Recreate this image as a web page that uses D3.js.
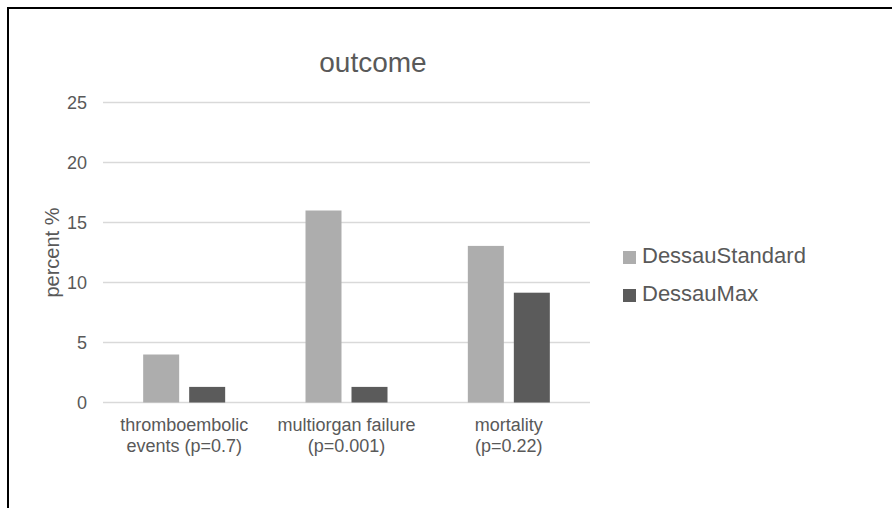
<!DOCTYPE html>
<html>
<head>
<meta charset="utf-8">
<script src="https://cdn.jsdelivr.net/npm/d3@7"></script>
<style>
  html, body { margin: 0; padding: 0; background: #fff; }
  svg { display: block; font-family: "Liberation Sans", Arial, sans-serif; }
</style>
</head>
<body>
<svg id="chart" width="892" height="508"></svg>
<script>
const categories = [
  ["thromboembolic", "events (p=0.7)"],
  ["multiorgan failure", "(p=0.001)"],
  ["mortality", "(p=0.22)"]
];
const seriesNames = ["DessauStandard", "DessauMax"];
const dessauStandard = [4, 16, 13.05];
const dessauMax = [1.3, 1.3, 9.15];
const yTicks = [0, 5, 10, 15, 20, 25];
const title = "outcome";
const yTitle = "percent %";
const colors = ["#adadad", "#5b5b5b"];

const svg = d3.select("#chart");

// frame (top and left lines)
svg.append("line").attr("x1", 8).attr("x2", 892).attr("y1", 8).attr("y2", 8)
  .attr("stroke", "#000").attr("stroke-width", 2);
svg.append("line").attr("x1", 8).attr("x2", 8).attr("y1", 7).attr("y2", 508)
  .attr("stroke", "#000").attr("stroke-width", 2);

const plot = { left: 103, right: 590, top: 102.5, bottom: 402.5 };

const catIdx = categories.map((d, i) => i);
const x0 = d3.scaleBand().domain(catIdx).range([plot.left, plot.right]).padding(0);
const innerStep = 46, gap = 10;
const pi = gap / innerStep;
const po = (x0.bandwidth() / innerStep - 2 + pi) / 2;
const x1 = d3.scaleBand().domain(seriesNames).range([0, x0.bandwidth()])
  .paddingInner(pi).paddingOuter(po);
const y = d3.scaleLinear().domain([0, 25]).range([plot.bottom, plot.top]);

// gridlines
svg.append("g").selectAll("line").data(yTicks).join("line")
  .attr("x1", plot.left).attr("x2", plot.right)
  .attr("y1", d => y(d)).attr("y2", d => y(d))
  .attr("stroke", "#d9d9d9").attr("stroke-width", 1.5);

// y axis labels via axis
const yAxis = d3.axisLeft(y).tickValues(yTicks).tickSize(0).tickPadding(0);
const gy = svg.append("g").attr("transform", `translate(87,0)`).call(yAxis);
gy.select(".domain").remove();
gy.selectAll("text").attr("fill", "#595959").attr("font-size", 18)
  .attr("font-family", "Liberation Sans, Arial, sans-serif");

// bars
const seriesData = [dessauStandard, dessauMax];
seriesNames.forEach((name, s) => {
  svg.append("g").selectAll("rect").data(seriesData[s]).join("rect")
    .attr("x", (d, i) => x0(i) + x1(name))
    .attr("width", x1.bandwidth())
    .attr("y", d => y(d))
    .attr("height", d => y(0) - y(d))
    .attr("fill", colors[s]);
});

// category labels
const gx = svg.append("g");
categories.forEach((lines, i) => {
  const t = gx.append("text")
    .attr("x", x0(i) + x0.bandwidth() / 2)
    .attr("y", 431)
    .attr("text-anchor", "middle")
    .attr("fill", "#595959").attr("font-size", 18);
  lines.forEach((ln, k) => {
    t.append("tspan").attr("x", x0(i) + x0.bandwidth() / 2)
      .attr("dy", k === 0 ? 0 : 21).text(ln);
  });
});

// title
svg.append("text").attr("x", 373).attr("y", 72)
  .attr("text-anchor", "middle").attr("fill", "#595959")
  .attr("font-size", 28).text(title);

// y title
svg.append("text")
  .attr("transform", `translate(59,${(plot.top + plot.bottom) / 2}) rotate(-90)`)
  .attr("text-anchor", "middle").attr("fill", "#595959")
  .attr("font-size", 20).text(yTitle);

// legend
const legend = svg.append("g");
seriesNames.forEach((name, s) => {
  const ly = 263 + s * 38;
  legend.append("rect").attr("x", 623).attr("y", ly - 12).attr("width", 13).attr("height", 13)
    .attr("fill", colors[s]);
  legend.append("text").attr("x", 642).attr("y", ly)
    .attr("fill", "#595959").attr("font-size", 22).text(name);
});
</script>
</body>
</html>
